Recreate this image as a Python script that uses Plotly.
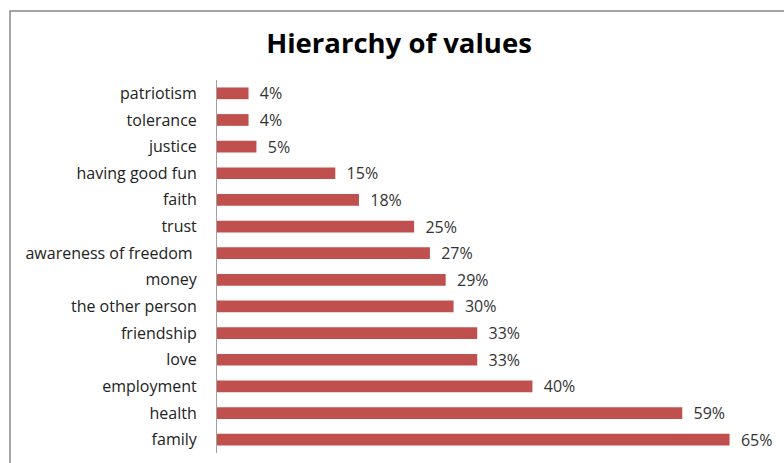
import plotly.graph_objects as go

categories = ["patriotism", "tolerance", "justice", "having good fun", "faith", "trust",
              "awareness of freedom ", "money", "the other person", "friendship", "love",
              "employment", "health", "family"]
values = [0.04, 0.04, 0.05, 0.15, 0.18, 0.25, 0.27, 0.29, 0.30, 0.33, 0.33, 0.40, 0.59, 0.65]
labels = ["4%", "4%", "5%", "15%", "18%", "25%", "27%", "29%", "30%", "33%", "33%", "40%", "59%", "65%"]

W, H = 784, 463
L, R, T, B = 217, 15, 80, 10
pw, ph = W - L - R, H - T - B
FONT = "Open Sans, Lato, sans-serif"

fig = go.Figure(go.Bar(
    y=categories, x=values, orientation="h",
    marker=dict(color="#C0504D", line=dict(width=0)),
    width=0.44,
    text=["  " + s for s in labels], textposition="outside", cliponaxis=False,
    constraintext="none",
    textfont=dict(family=FONT, size=16, color="#333333"),
))

fig.update_layout(
    width=W, height=H,
    margin=dict(l=L, r=R, t=T, b=B),
    plot_bgcolor="white", paper_bgcolor="white",
    showlegend=False,
    title=dict(text="<b>Hierarchy of values</b>", x=399 / W, xref="container", xanchor="center",
               y=1 - 43 / H, yref="container", yanchor="middle",
               font=dict(family=FONT, size=27.5, color="black")),
    xaxis=dict(range=[0, 0.7], showgrid=False, zeroline=False, showticklabels=False,
               showline=False, ticks=""),
    yaxis=dict(autorange="reversed", showgrid=False, zeroline=False,
               showline=True, linecolor="#A0A0A0", linewidth=1,
               ticks="", ticklabelstandoff=16,
               tickfont=dict(family=FONT, size=16, color="#222222")),
    shapes=[dict(type="rect", xref="paper", yref="paper",
                 x0=(10 - L) / pw, x1=2, y0=-1, y1=(H - B - 11) / ph,
                 line=dict(color="#888888", width=1.5), layer="below")],
)

fig.write_html("out.html")
